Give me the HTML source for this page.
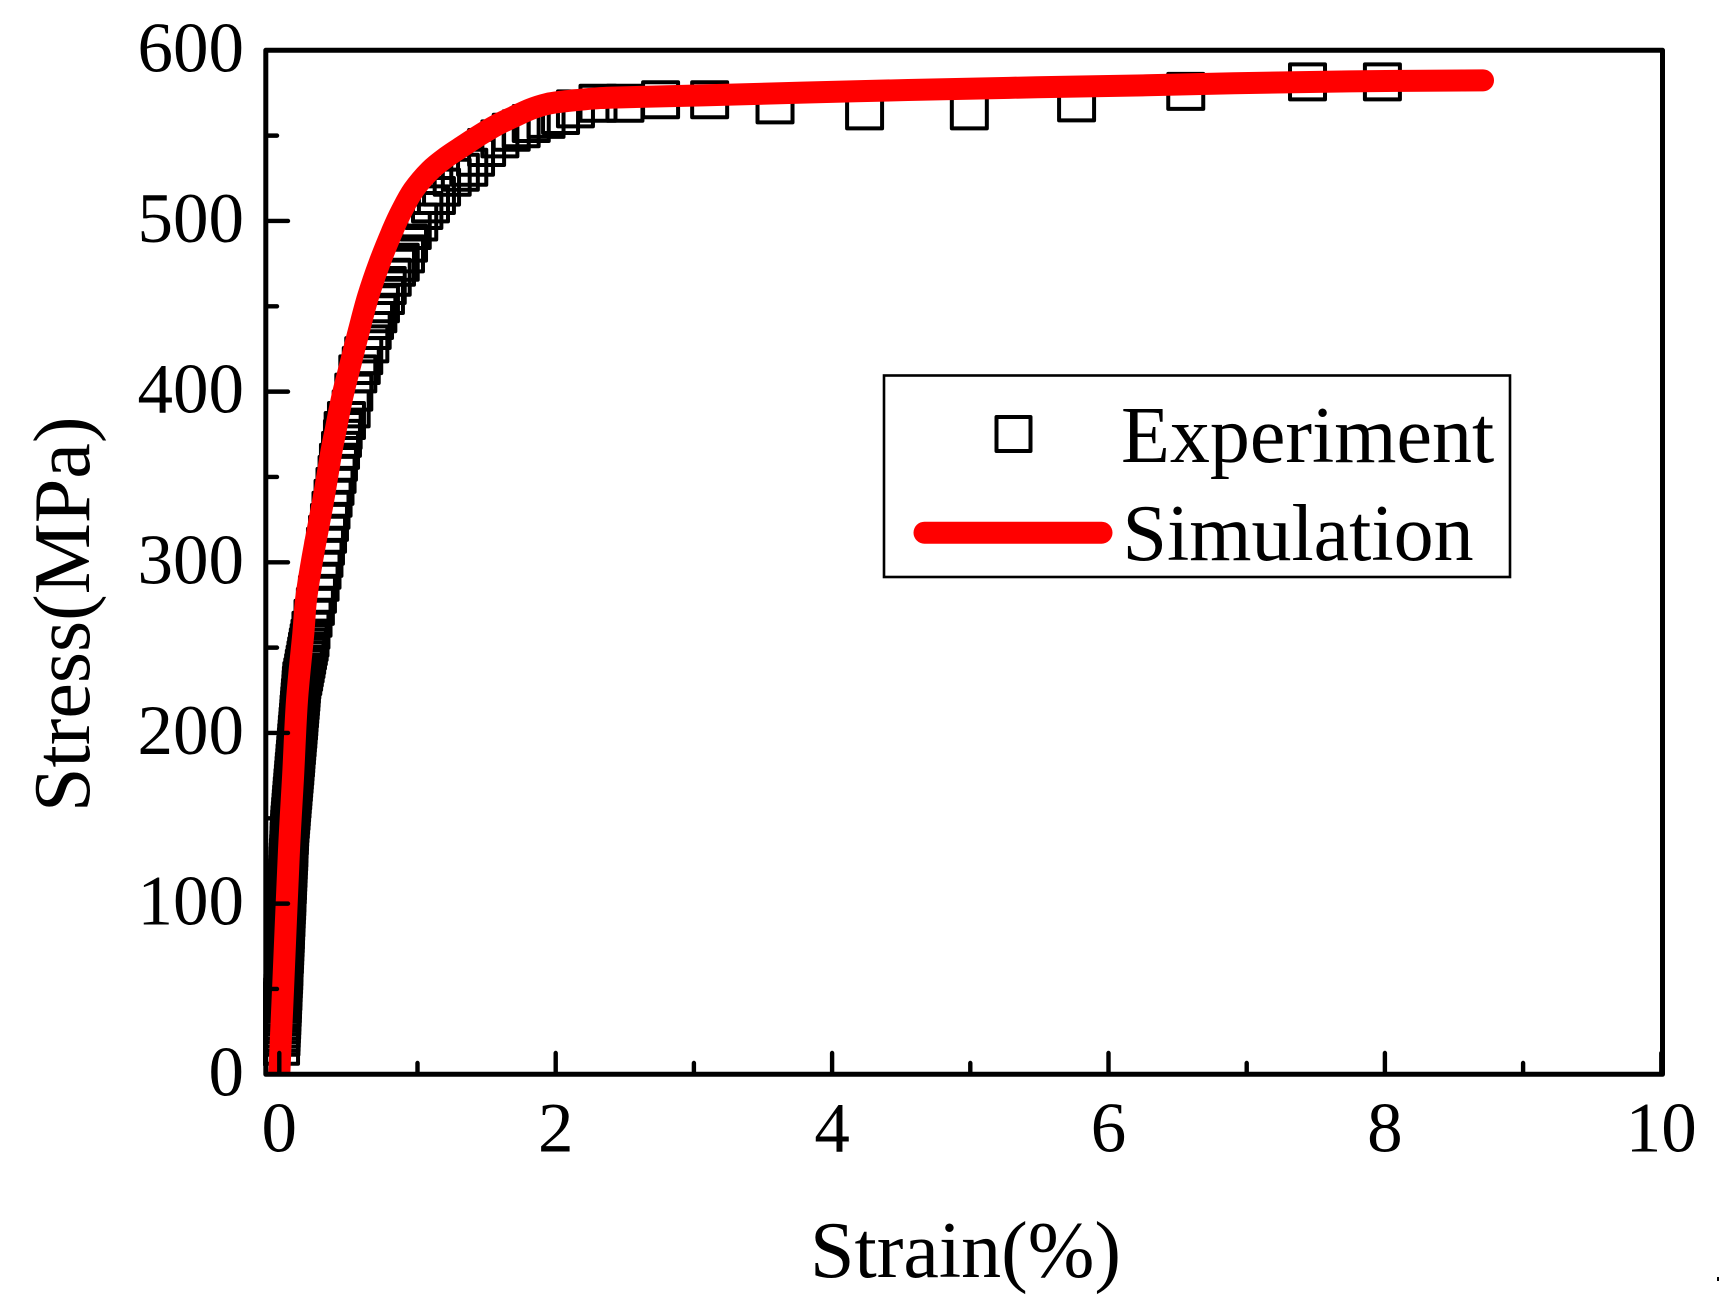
<!DOCTYPE html>
<html lang="en">
<head>
<meta charset="utf-8">
<title>Stress-Strain Curve</title>
<style>
html,body{margin:0;padding:0;background:#fff;width:1719px;height:1303px;overflow:hidden}
svg{display:block}
text{font-family:"Liberation Serif","Times New Roman",serif;fill:#000}
</style>
</head>
<body>
<svg id="chart" xmlns="http://www.w3.org/2000/svg" width="1719" height="1303" viewBox="0 0 1719 1303">
  <defs><clipPath id="plot-clip"><rect x="263" y="48" width="1402" height="1028"/></clipPath></defs>
  <rect x="0" y="0" width="1719" height="1303" fill="#fff"/>
  <g id="markers" clip-path="url(#plot-clip)" fill="none" stroke="#000" stroke-width="4" stroke-linejoin="round"></g>
  <g clip-path="url(#plot-clip)"><path id="sim-line" fill="none" stroke="#ff0000" stroke-width="22" stroke-linejoin="round" stroke-linecap="round"/></g>
  <rect x="265.8" y="50.3" width="1396.7" height="1024" fill="none" stroke="#000" stroke-width="5" stroke-linejoin="round"/>
  <g id="x-ticks" stroke="#000" stroke-width="4.4"></g>
  <g id="y-ticks" stroke="#000" stroke-width="4.4"></g>
  <g id="x-labels" font-size="71" text-anchor="middle"></g>
  <g id="y-labels" font-size="71" text-anchor="end"></g>
  <text x="810" y="1277" font-size="80">Strain(%)</text>
  <text transform="translate(89,812) rotate(-90)" font-size="80">Stress(MPa)</text>
  <g>
    <rect x="884" y="375.5" width="626" height="201.5" fill="#fff" stroke="#000" stroke-width="2.6"/>
    <rect x="996.5" y="417" width="34" height="34" fill="none" stroke="#000" stroke-width="4" stroke-linejoin="round"/>
    <text x="1121" y="462" font-size="80">Experiment</text>
    <line x1="924.5" y1="532.7" x2="1101.5" y2="532.7" stroke="#ff0000" stroke-width="22" stroke-linecap="round"/>
    <text x="1122.5" y="560" font-size="80">Simulation</text>
  </g>
  <rect x="1717" y="1277" width="2" height="4" fill="#000"/>
</svg>
<script>
// Experiment series values
var experimentStrain = [
0.009,0.012,0.013,0.014,0.015,0.017,0.018,0.019,0.021,0.022,0.023,0.024,0.026,0.027,0.028,0.029,0.031,0.032,0.033,0.034,
0.035,0.037,0.038,0.039,0.040,0.042,0.043,0.044,0.045,0.046,0.048,0.049,0.050,0.051,0.053,0.054,0.055,0.056,0.058,0.059,
0.060,0.061,0.063,0.064,0.065,0.066,0.068,0.069,0.070,0.071,0.073,0.074,0.075,0.077,0.080,0.082,0.085,0.087,0.089,0.092,
0.094,0.097,0.099,0.102,0.104,0.107,0.109,0.112,0.114,0.117,0.119,0.121,0.124,0.126,0.129,0.131,0.134,0.136,0.139,0.141,
0.143,0.146,0.148,0.151,0.153,0.156,0.158,0.160,0.163,0.170,0.176,0.181,0.187,0.193,0.198,0.204,0.210,0.216,0.222,
0.229,0.244,0.261,0.276,0.295,0.309,0.323,0.334,0.349,0.363,0.374,0.389,0.403,0.418,0.428,0.443,0.457,
0.462,0.486,0.520,0.539,0.568,0.593,0.611,0.655,0.672,0.689,0.713,0.732,0.768,0.781,0.817,0.848,0.875,0.913,0.935,0.962,
1.009,1.046,1.094,1.137,1.174,1.251,1.310,1.371,1.420,1.500,1.596,1.678,1.750,1.823,1.930,2.035,2.143,2.306,2.501,2.759,
3.114,3.587,4.235,4.993,5.769,6.559,7.440,7.982];
var experimentStress = [
16.4,21.7,24,26.5,29,31.3,33.8,36,38.6,41,43.4,45.7,48.2,50.5,53,55.4,57.8,60.1,62.6,65,
67.5,69.8,72.3,74.6,77,79.5,81.9,84.2,86.7,89,91.4,93.9,96.2,98.7,101,103.5,105.8,108.3,110.6,113,
115.5,117.8,120.3,122.6,125,127.5,129.8,132.2,134.7,137,139.5,141.8,144.2,146.6,149,151.5,153.9,156.2,158.7,161,
163.4,165.9,168.2,170.7,173,175.5,177.8,180.2,182.7,185,187.4,189.9,192.2,194.6,197,199.5,201.8,204.2,206.7,209,
211.4,213.9,216.2,218.7,221,223.5,225.8,228.2,230.7,233,235.5,238,240.4,243,245.3,248,250.5,253,255.6,
260.2,267.2,274.2,281.3,288.3,295.3,302.3,309.4,316.4,323.4,330.5,337.5,344.5,351.5,358.6,365.6,372.6,
377.2,383.1,389.9,399.7,410.4,415.3,421.1,428,435.8,441.7,445.6,451.5,456.3,462.2,467,472.9,475.8,480.7,487,494.4,
499.4,506.1,510,514.9,519.8,525.6,528.5,531.5,537.3,543,548.1,552,554,557.1,559.5,561.8,565.7,569,569,571,
571,568,564.5,564.5,569.2,575.9,581.5,581.5];
// Simulation series values
var simulationStrain = [0,0.029,0.07,0.1,0.128,0.174,0.193,0.237,0.318,0.379,0.408,0.456,0.517,0.577,0.642,0.725,0.821,0.886,0.970,1.090,1.211,1.331,1.452,1.573,1.693,1.814,1.935,2.055,2.176,2.321,2.512,3.066,4.173,5.281,6.279,6.908,7.74,8.71];
var simulationStress = [0,53.5,131,175,219,258.5,277.8,301,336.5,365.8,377.5,397,416.8,436.1,455.6,475.4,494.7,506,518,529.5,537.5,544,550.4,556.2,560.9,565.4,568.5,570,571,572,572.5,573.6,576,578,579.5,580.7,581.8,582.4];
// Tick values
var xMajorTicks = [0,2,4,6,8,10];
var xMinorTicks = [1,3,5,7,9];
var yMajorTicks = [0,100,200,300,400,500,600];
var yMinorTicks = [50,150,250,350,450,550];

var xScale = function (v) { return 279.3 + 138.2 * v; };
var yScale = function (v) { return 1074.3 - 1.7067 * v; };
var NS = 'http://www.w3.org/2000/svg';

var markersGroup = document.getElementById('markers');
experimentStrain.forEach(function (s, i) {
  var r = document.createElementNS(NS, 'rect');
  r.setAttribute('x', (xScale(s) - 17.5).toFixed(2));
  r.setAttribute('y', (yScale(experimentStress[i]) - 17.5).toFixed(2));
  r.setAttribute('width', 35);
  r.setAttribute('height', 35);
  
  
  markersGroup.appendChild(r);
});

// Smooth curve through the simulation values (Catmull-Rom to Bezier)
var simX = simulationStrain.map(xScale);
var simY = simulationStress.map(yScale);
var d = 'M' + simX[0].toFixed(2) + ' ' + simY[0].toFixed(2);
for (var i = 0; i < simX.length - 1; i++) {
  var a = Math.max(i - 1, 0);
  var c = i + 1;
  var e = Math.min(i + 2, simX.length - 1);
  d += ' C' + (simX[i] + (simX[c] - simX[a]) / 6).toFixed(2) + ' ' + (simY[i] + (simY[c] - simY[a]) / 6).toFixed(2) +
       ' ' + (simX[c] - (simX[e] - simX[i]) / 6).toFixed(2) + ' ' + (simY[c] - (simY[e] - simY[i]) / 6).toFixed(2) +
       ' ' + simX[c].toFixed(2) + ' ' + simY[c].toFixed(2);
}
document.getElementById('sim-line').setAttribute('d', d);

function addXTick(group, v, len) {
  var l = document.createElementNS(NS, 'line');
  l.setAttribute('x1', xScale(v));
  l.setAttribute('x2', xScale(v));
  l.setAttribute('y1', 1074);
  l.setAttribute('y2', 1074 - len);
  l.setAttribute('stroke-linecap', 'round');
  
  
  group.appendChild(l);
}
function addYTick(group, v, len) {
  var l = document.createElementNS(NS, 'line');
  l.setAttribute('x1', 266);
  l.setAttribute('x2', 266 + len);
  l.setAttribute('y1', yScale(v));
  l.setAttribute('y2', yScale(v));
  l.setAttribute('stroke-linecap', 'round');
  
  
  group.appendChild(l);
}
var xt = document.getElementById('x-ticks');
var yt = document.getElementById('y-ticks');
xMajorTicks.forEach(function (v) { addXTick(xt, v, 21); });
xMinorTicks.forEach(function (v) { addXTick(xt, v, 11); });
yMajorTicks.forEach(function (v) { addYTick(yt, v, 22); });
yMinorTicks.forEach(function (v) { addYTick(yt, v, 11); });

var xl = document.getElementById('x-labels');
xMajorTicks.forEach(function (v) {
  var t = document.createElementNS(NS, 'text');
  t.setAttribute('x', xScale(v));
  t.setAttribute('y', 1151.5);
  
  
  t.textContent = String(v);
  xl.appendChild(t);
});
var yl = document.getElementById('y-labels');
yMajorTicks.forEach(function (v) {
  var t = document.createElementNS(NS, 'text');
  t.setAttribute('x', 244);
  t.setAttribute('y', yScale(v) + 21);
  
  
  t.textContent = String(v);
  yl.appendChild(t);
});
</script>
</body>
</html>
